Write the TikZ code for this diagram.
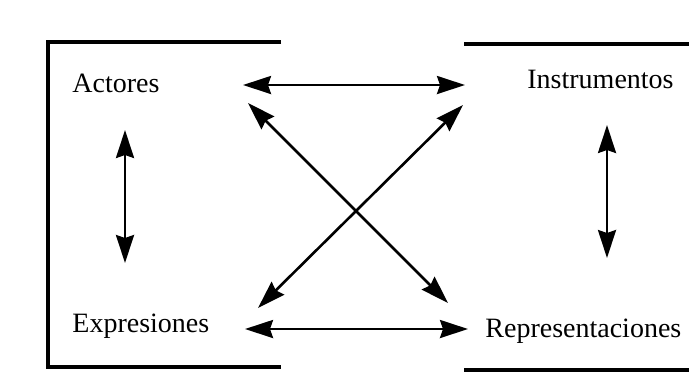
\documentclass[tikz,border=0pt]{standalone}
\usepackage{fontspec}
\setmainfont{Liberation Serif}
\usetikzlibrary{arrows.meta, calc}

\begin{document}
\begin{tikzpicture}[x=0.5pt, y=0.5pt]
\tikzstyle{every node}+=[inner sep=0pt, font=\fontsize{14}{16}\selectfont]
\tikzstyle{link}=[line width=1.3pt, {Stealth[length=14pt,width=9pt,inset=1.5pt]}-{Stealth[length=14pt,width=9pt,inset=1.5pt]}]
\tikzstyle{frame}=[line width=2pt]
\useasboundingbox (0,0) rectangle (689,-387);
\draw [frame] (281,-42) -- (48,-42) -- (48,-367) -- (281,-367);
\draw [frame] (464,-44) -- (689,-44);
\draw [frame] (464,-370) -- (689,-370);
\node [anchor=base west] (actores) at (72,-92) {Actores};
\node [anchor=base west] (instrumentos) at (527,-88) {Instrumentos};
\node [anchor=base west] (expresiones) at (72,-332) {Expresiones};
\node [anchor=base west] (representaciones) at (485,-337) {Representaciones};
\draw [link] ($(actores.base west)+(171,7)$) -- ($(instrumentos.base west)+(-62,3)$);
\draw [link] ($(expresiones.base west)+(173,3)$) -- ($(representaciones.base west)+(-17,8)$);
\draw [link] ($(actores.base west)+(176,-11)$) -- ($(representaciones.base west)+(-37,34)$);
\draw [link] ($(instrumentos.base west)+(-64,-17)$) -- ($(expresiones.base west)+(186,24)$);
\draw [link] ($(actores.base west)+(53,-38)$) -- ($(expresiones.base west)+(53,69)$);
\draw [link] ($(instrumentos.base west)+(80,-37)$) -- ($(representaciones.base west)+(122,79)$);
\end{tikzpicture}
\end{document}
